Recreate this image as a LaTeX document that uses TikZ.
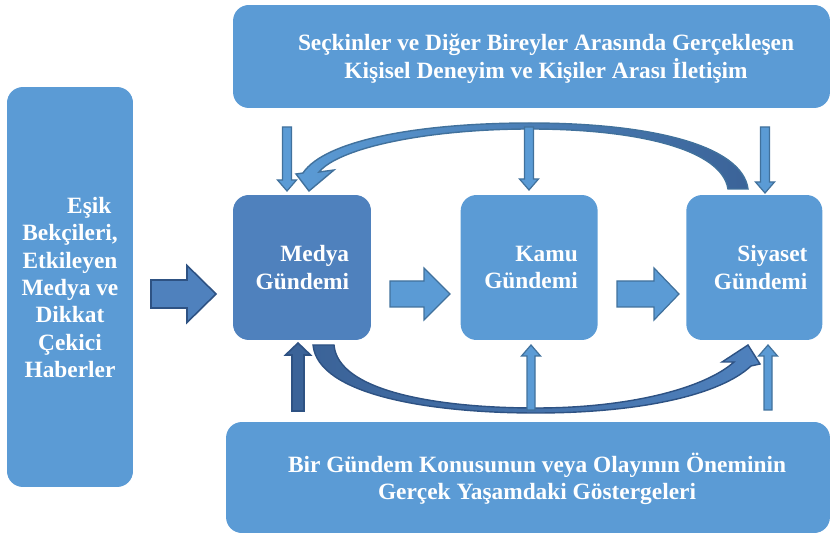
\documentclass[tikz,border=0pt]{standalone}
\usepackage{fontspec}
\setmainfont{Liberation Serif}
\usetikzlibrary{positioning}

\definecolor{paleblue}{HTML}{5B9BD5}
\definecolor{mediablue}{HTML}{4F81BD}
\definecolor{rimblue}{HTML}{41719C}
\definecolor{deepblue}{HTML}{3B6398}
\definecolor{deeprim}{HTML}{2E5283}

\tikzset{
  panel/.style={fill=paleblue, rounded corners=9pt, inner sep=0pt},
  caption/.style={text=white, align=center, font=\bfseries\fontsize{13.3}{15.6}\selectfont},
  thinarrow/.style={fill=paleblue, draw=rimblue, line width=0.7pt},
  fatarrow/.style={fill=mediablue, draw=deeprim, line width=0.9pt},
}

% vertical block arrow: [style]{x}{tail y}{head base y}{tip y}{shaft half}{head half}
\newcommand{\vblock}[7][]{%
  \draw[#1] (#2-#6,#3) -- (#2-#6,#4) -- (#2-#7,#4) -- (#2,#5)
    -- (#2+#7,#4) -- (#2+#6,#4) -- (#2+#6,#3) -- cycle;}
% horizontal block arrow: [style]{y}{tail x}{head base x}{tip x}{shaft half}{head half}
\newcommand{\hblock}[7][]{%
  \draw[#1] (#3,#2-#6) -- (#4,#2-#6) -- (#4,#2-#7) -- (#5,#2)
    -- (#4,#2+#7) -- (#4,#2+#6) -- (#3,#2+#6) -- cycle;}

\begin{document}
\begin{tikzpicture}[x=0.02cm,y=-0.02cm]
	\useasboundingbox (0,0) rectangle (831,536);

	% panels
	\node[panel, minimum width=11.94cm, minimum height=2.06cm] (elite) at (531.5,56.5) {};
	\node[panel, minimum width=12.08cm, minimum height=2.22cm] (signs) at (528,477.5) {};
	\node[panel, minimum width=2.52cm, minimum height=8cm] (gate) at (70,287) {};
	\node[panel, fill=mediablue, minimum width=2.76cm, minimum height=2.9cm] (medya) at (302,267.5) {};
	\node[panel, minimum width=2.74cm, minimum height=2.9cm, right=1.78cm of medya] (kamu) {};
	\node[panel, minimum width=2.72cm, minimum height=2.9cm, right=1.76cm of kamu] (siyaset) {};

	% texts
	\node[caption] (eliteText) at (546,59) {Seçkinler ve Diğer Bireyler Arasında Gerçekleşen\\Kişisel Deneyim ve Kişiler Arası İletişim};
	\node[caption] (signsText) at (537,479) {Bir Gündem Konusunun veya Olayının Öneminin\\Gerçek Yaşamdaki Göstergeleri};
	\node[caption] (gateText) at (70,287.5) {\hspace*{22pt}Eşik\\Bekçileri,\\Etkileyen\\Medya ve\\Dikkat\\Çekici\\Haberler};
	\node[caption, align=right, anchor=east] (medyaText) at ([xshift=-0.32cm]medya.east) {Medya\\Gündemi};
	\node[caption, align=right, anchor=east] (kamuText) at ([xshift=-0.28cm]kamu.east) {Kamu\\Gündemi};
	\node[caption, align=right, anchor=east] (siyasetText) at ([xshift=-0.18cm]siyaset.east) {Siyaset\\Gündemi};

	% curved feedback arrows
	\draw[draw=rimblue, line width=0.8pt, left color=paleblue, right color=deepblue]
		(748,189) .. controls (742,145) and (650,123) .. (530,123)
		.. controls (420,123) and (325,140) .. (303,173)
		-- (296,174) -- (309,191) -- (334,170) -- (319,172)
		.. controls (340,147) and (430,129) .. (530,129)
		.. controls (640,129) and (722,150) .. (728,189) -- cycle;
	\draw[draw=deeprim, line width=0.8pt, left color=deepblue, right color=mediablue]
		(313,345) .. controls (318,395) and (430,413) .. (536,413)
		.. controls (640,413) and (720,395) .. (751,366)
		-- (760,364) -- (748,345) -- (722,362) -- (734,362)
		.. controls (705,388) and (630,408) .. (536,408)
		.. controls (440,408) and (338,392) .. (334,345) -- cycle;

	% straight block arrows
	\foreach \x/\tip in {287/191, 529/190, 765/193}
		\vblock[thinarrow]{\x}{127}{\tip-11}{\tip}{4.5}{9.5};
	\vblock[fatarrow, fill=deepblue]{298}{411}{355}{343}{6}{12.5};
	\foreach \x in {531, 768}
		\vblock[thinarrow]{\x}{410}{356}{345}{4}{9.5};
	\hblock[fatarrow]{294}{151}{187}{216}{14}{28.5};
	\foreach \a/\b/\c in {390/424/450, 617/654/679}
		\hblock[thinarrow]{294}{\a}{\b}{\c}{13}{26};
\end{tikzpicture}
\end{document}
